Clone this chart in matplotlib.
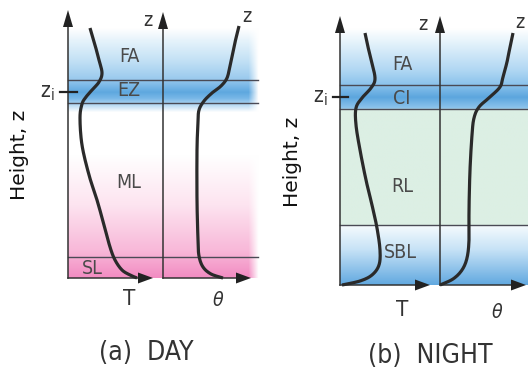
import matplotlib
matplotlib.use("Agg")
import matplotlib.pyplot as plt
from matplotlib.colors import to_rgb
import numpy as np

plt.rcParams['font.family'] = ['DejaVu Sans']
plt.rcParams['font.stretch'] = 'condensed'

# profile points (x, height) in page units, y grows downward
day_T = [(90, 28), (95, 45), (99, 60), (102, 73), (99, 82), (92, 90), (86, 97), (82, 104),
         (80, 118), (82, 145), (89, 175), (97, 200), (104, 225), (110, 247), (115, 260),
         (122, 270), (130, 275), (137, 278)]
day_theta = [(239, 26), (236, 38), (233, 52), (230, 66), (227, 78), (221, 86), (212, 93),
             (204, 101), (199, 110), (198, 122), (197, 150), (197, 200), (198, 240),
             (199, 256), (203, 267), (211, 274), (223, 278)]
night_T = [(365, 33), (368, 47), (372, 63), (375, 79), (371, 88), (362, 98), (356, 108),
           (356, 125), (360, 150), (366, 180), (372, 205), (377, 228), (380, 250),
           (379, 265), (372, 275), (360, 281), (342, 285)]
night_theta = [(513, 33), (510, 47), (507, 62), (503, 77), (500, 87), (490, 97), (479, 107),
               (474, 118), (472, 135), (470, 170), (469, 210), (469, 240), (467, 258),
               (462, 270), (453, 279), (440, 285)]

day_layers = ["FA", "EZ", "ML", "SL"]
night_layers = ["FA", "CI", "RL", "SBL"]

# background colour stops (height, colour)
day_stops = [(0, "#ffffff"), (28, "#ffffff"), (40, "#e6f3fb"), (60, "#c3e1f5"), (78, "#9ccbee"),
             (86, "#79b7e7"), (92, "#5ea8df"), (98, "#78b7e7"), (103, "#a5d0f0"),
             (112, "#ffffff"), (155, "#ffffff"), (205, "#fde4f0"), (250, "#f8b9d9"),
             (278, "#f28cc2"), (371, "#f28cc2")]
night_stops = [(0, "#ffffff"), (28, "#ffffff"), (45, "#dff0fa"), (70, "#b0d7f3"),
               (84, "#8cc3ec"), (97, "#5ca6de"), (108, "#8ec4ec"), (109.5, "#dcefe4"),
               (225, "#dcefe4"), (226, "#f5fafd"), (250, "#c6e2f6"), (285, "#62a9e0"),
               (371, "#62a9e0")]


def smooth(pts, n=12):
    p = np.array(pts, dtype=float)
    p = np.vstack([p[0], p, p[-1]])
    out = []
    for i in range(1, len(p) - 2):
        p0, p1, p2, p3 = p[i - 1], p[i], p[i + 1], p[i + 2]
        t = np.linspace(0, 1, n, endpoint=False)[:, None]
        out.append(0.5 * ((2 * p1) + (-p0 + p2) * t + (2 * p0 - 5 * p1 + 4 * p2 - p3) * t ** 2
                          + (-p0 + 3 * p1 - 3 * p2 + p3) * t ** 3))
    out.append(p[-2][None, :])
    out = np.vstack(out)
    return out[:, 0], out[:, 1]


def gradient(ax, stops, x0, x1, y0, y1, fade=None):
    ys = np.arange(y0, y1 + 1)
    sy = [s[0] for s in stops]
    rgb = np.array([to_rgb(s[1]) for s in stops])
    col = np.stack([np.interp(ys, sy, rgb[:, k]) for k in range(3)], axis=1)
    xs = np.arange(x0, x1 + 1)
    img = np.ones((len(ys), len(xs), 4))
    img[:, :, :3] = col[:, None, :]
    if fade is not None:
        a = np.clip((x1 - xs) / (x1 - fade), 0, 1)
        img[:, :, :3] = img[:, :, :3] * a[None, :, None] + (1 - a[None, :, None])
    ax.imshow(img, extent=(x0, x1, y1, y0), origin="upper", aspect="auto",
              interpolation="bilinear", zorder=0)


def arrow_up(ax, x, tip, base, ytop):
    ax.plot([x, x], [base, ytop], color="#333333", lw=1.1, zorder=3)
    ax.fill([x - 5, x + 5, x], [tip + 17, tip + 17, tip], color="#222222", zorder=4, lw=0)


def arrow_right(ax, y, x0, tip):
    ax.plot([x0, tip - 8], [y, y], color="#333333", lw=1.1, zorder=3)
    ax.fill([tip - 15, tip - 15, tip], [y - 5.5, y + 5.5, y], color="#222222", zorder=4, lw=0)


fig = plt.figure(figsize=(5.28, 3.71), dpi=100)
ax = fig.add_axes([0, 0, 1, 1])
ax.set_xlim(0, 528)
ax.set_ylim(371, 0)
ax.axis('off')

# ---- day panel ----
gradient(ax, day_stops, 68, 259, 28, 278, fade=249)
for y in [80, 103, 257]:
    ax.plot([68, 258], [y, y], color="#4a4a55", lw=1.0, zorder=2)
arrow_up(ax, 68, 10, 278, 20)
arrow_up(ax, 163, 12, 278, 22)
arrow_right(ax, 278, 68, 153)
arrow_right(ax, 278, 163, 251)
ax.plot(*smooth(day_T), color="#2a2a2a", lw=2.3, zorder=5, solid_capstyle="butt")
ax.plot(*smooth(day_theta), color="#2a2a2a", lw=2.3, zorder=5, solid_capstyle="butt")
ax.plot([60, 77], [92, 92], color="#222222", lw=1.6, zorder=5)

for txt, (x, y) in zip(day_layers, [(129, 57), (129, 91), (129, 182), (92, 268)]):
    ax.text(x, y, txt, fontsize=14, color="#4a4a4a", ha="center", va="center", zorder=6)
ax.text(148, 20, "z", fontsize=14, color="#333333", ha="center", va="center")
ax.text(247, 17, "z", fontsize=14, color="#333333", ha="center", va="center")
ax.text(47, 93, "$\\mathregular{z_i}$", fontsize=15, color="#333333", ha="center", va="center")
ax.text(20, 155, "Height, z", fontsize=14.5, rotation=90, ha="center", va="center",
        fontstretch="normal", color="#111111")
ax.text(129, 299, "T", fontsize=16, ha="center", va="center", color="#333333")
ax.text(218, 301, "$\\theta$", fontsize=14, ha="center", va="center", color="#333333")
ax.text(146, 353, "(a)  DAY", fontsize=19, ha="center", va="center", color="#333333")

# ---- night panel ----
gradient(ax, night_stops, 340, 528, 28, 285)
for y in [85, 109, 225]:
    ax.plot([340, 528], [y, y], color="#4a4a55", lw=1.0, zorder=2)
arrow_up(ax, 340, 16, 285, 26)
arrow_up(ax, 440, 16, 285, 26)
arrow_right(ax, 285, 340, 430)
arrow_right(ax, 285, 440, 526)
ax.plot(*smooth(night_T), color="#2a2a2a", lw=2.3, zorder=5, solid_capstyle="butt")
ax.plot(*smooth(night_theta), color="#2a2a2a", lw=2.3, zorder=5, solid_capstyle="butt")
ax.plot([333, 348], [97, 97], color="#222222", lw=1.6, zorder=5)

for txt, (x, y) in zip(night_layers, [(402, 64), (402, 99), (402, 187), (400, 253)]):
    ax.text(x, y, txt, fontsize=14, color="#4a4a4a", ha="center", va="center", zorder=6)
ax.text(423, 25, "z", fontsize=14, color="#333333", ha="center", va="center")
ax.text(520, 22, "z", fontsize=14, color="#333333", ha="center", va="center")
ax.text(320, 98, "$\\mathregular{z_i}$", fontsize=15, color="#333333", ha="center", va="center")
ax.text(292, 162, "Height, z", fontsize=14.5, rotation=90, ha="center", va="center",
        fontstretch="normal", color="#111111")
ax.text(402, 310, "T", fontsize=16, ha="center", va="center", color="#333333")
ax.text(497, 313, "$\\theta$", fontsize=14, ha="center", va="center", color="#333333")
ax.text(430, 356, "(b)  NIGHT", fontsize=19, ha="center", va="center", color="#333333")

fig.savefig("out.png", dpi=100)
